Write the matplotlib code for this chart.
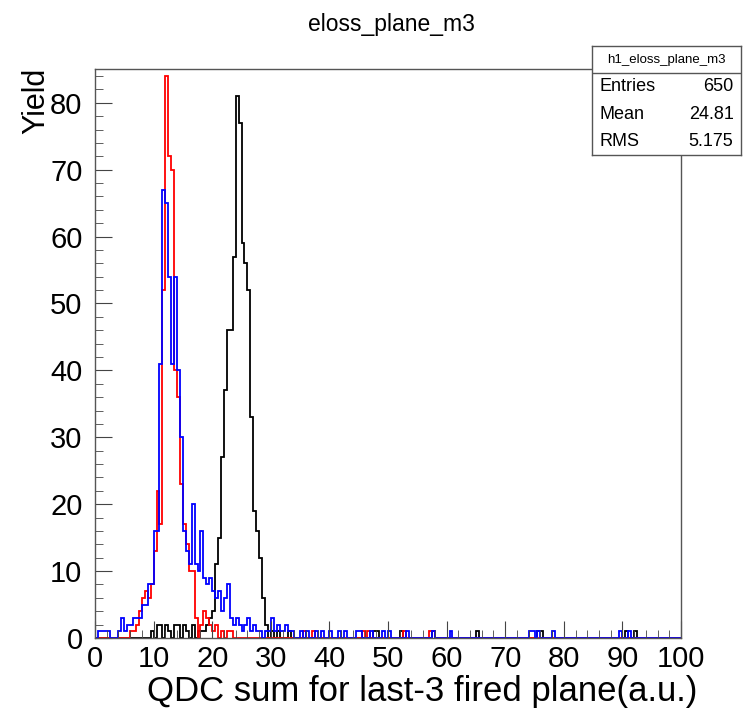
import numpy as np
import matplotlib
matplotlib.use("Agg")
import matplotlib.pyplot as plt
from matplotlib.ticker import MultipleLocator

plt.rcParams["font.family"] = ["Liberation Sans", "DejaVu Sans"]

# histogram binning (0.5 a.u. per bin, 0..100)
bin_width = 0.5
x_min, x_max = 0.0, 100.0

# black: main peak, counts per bin starting at black_start
black_start = 19.0
black_counts = [2, 3, 4, 11, 15, 27, 37, 46, 46, 57, 81, 77, 59, 56, 52, 33,
                19, 16, 12, 6, 2]
black_tail_x = [9.5, 10.5, 11.0, 12.0, 12.5, 13.5, 14.0, 15.0, 15.5, 16.5, 17.5,
                18.0, 18.5, 30.0, 31.0, 33.0, 47.5, 48.0, 52.0, 57.5, 65.0,
                75.5, 76.0, 90.5, 92.0]
black_tail_n = [1, 2, 2, 2, 1, 2, 2, 2, 1, 2, 1, 1, 1, 1, 1, 1, 1, 1, 1, 1, 1,
                1, 1, 1, 1]

# red
red_start = 6.0
red_counts = [1, 1, 2, 4, 6, 7, 6, 8, 13, 22, 17, 52, 84, 72, 70, 40, 36, 23,
              17, 14, 10, 10, 3, 0, 2, 4, 3, 2, 1, 2, 0, 1, 0, 1, 1]
red_tail_x = [35.5, 37.0, 45.5, 46.5, 52.5, 57.0, 57.5]
red_tail_n = [1, 1, 1, 1, 1, 1, 1]

# blue
blue_start = 0.5
blue_counts = [1, 1, 1, 1, 0, 0, 0, 1, 3, 1, 2, 2, 3, 3, 3, 5, 5, 8, 8, 16, 16,
               41, 67, 65, 54, 41, 54, 40, 30, 16, 13, 11, 20, 11, 10, 16, 9, 8,
               9, 7, 6, 7, 4, 6, 8, 3, 2, 3, 2, 1, 2, 3, 1, 2, 1, 1, 0, 1, 1, 3,
               1, 2, 1, 1, 2, 1, 1]
blue_tail_x = [35.0, 36.0, 37.5, 38.5, 40.0, 41.5, 42.5, 44.5, 45.0, 47.0, 49.0,
               50.0, 53.0, 57.5, 60.5, 74.0, 74.5, 75.5, 78.0, 89.5, 91.0]
blue_tail_n = [1, 1, 1, 1, 1, 1, 1, 1, 1, 1, 1, 1, 1, 1, 1, 1, 1, 1, 1, 1, 1]

stats_name = "h1_eloss_plane_m3"
stats_rows = [("Entries", "650"), ("Mean", "24.81"), ("RMS", "5.175")]


def build(start, counts, tail_x, tail_n):
    edges = np.arange(x_min, x_max + bin_width / 2, bin_width)
    h = np.zeros(len(edges) - 1)
    i0 = int(round((start - x_min) / bin_width))
    h[i0:i0 + len(counts)] += counts
    for x, n in zip(tail_x, tail_n):
        h[int(round((x - x_min) / bin_width))] += n
    return edges, h


fig = plt.figure(figsize=(7.44, 7.10), dpi=100)
ax = fig.add_axes([95 / 744, 1 - 638 / 710, 586 / 744, 569 / 710])

for start, counts, tx, tn, col in [
        (black_start, black_counts, black_tail_x, black_tail_n, "black"),
        (red_start, red_counts, red_tail_x, red_tail_n, "#ff0000"),
        (blue_start, blue_counts, blue_tail_x, blue_tail_n, "#0000ff")]:
    edges, h = build(start, counts, tx, tn)
    ax.stairs(h, edges, color=col, lw=1.3)

ax.set_xlim(x_min, x_max)
ax.set_ylim(0, 81 * 1.05)
ax.xaxis.set_major_locator(MultipleLocator(10))
ax.xaxis.set_minor_locator(MultipleLocator(2))
ax.yaxis.set_major_locator(MultipleLocator(10))
ax.yaxis.set_minor_locator(MultipleLocator(2))
ax.tick_params(which="both", direction="in", labelsize=21, top=False, right=False,
               color="#444444")
ax.tick_params(which="major", length=12)
ax.tick_params(which="minor", length=6)
ax.tick_params(axis="y", which="major", pad=9)
ax.tick_params(axis="x", which="major", pad=5)
for s in ax.spines.values():
    s.set_color("#555555")
    s.set_linewidth(1.0)

fig.text(391 / 744, 1 - 24 / 710, "eloss_plane_m3", ha="center", va="center",
         fontsize=16.5)
fig.text(36 / 744, 1 - 68 / 710, "Yield", rotation=90, ha="center", va="top",
         fontsize=22)
fig.text(697 / 744, 1 - 692 / 710, "QDC sum for last-3 fired plane(a.u.)",
         ha="right", va="center", fontsize=25)

# stats box
sb = fig.add_axes([592 / 744, 1 - 155 / 710, 149 / 744, 109 / 710])
sb.set_xticks([])
sb.set_yticks([])
sb.set_xlim(0, 1)
sb.set_ylim(0, 4)
for s in sb.spines.values():
    s.set_color("#555555")
    s.set_linewidth(1.0)
sb.axhline(3, color="#555555", lw=1.0)
sb.text(0.5, 3.5, stats_name, ha="center", va="center", fontsize=9.5)
for k, (lab, val) in enumerate(stats_rows):
    yy = 2.5 - k
    sb.text(0.05, yy, lab, ha="left", va="center", fontsize=13)
    sb.text(0.95, yy, val, ha="right", va="center", fontsize=13)

fig.savefig("out.png", dpi=100)
